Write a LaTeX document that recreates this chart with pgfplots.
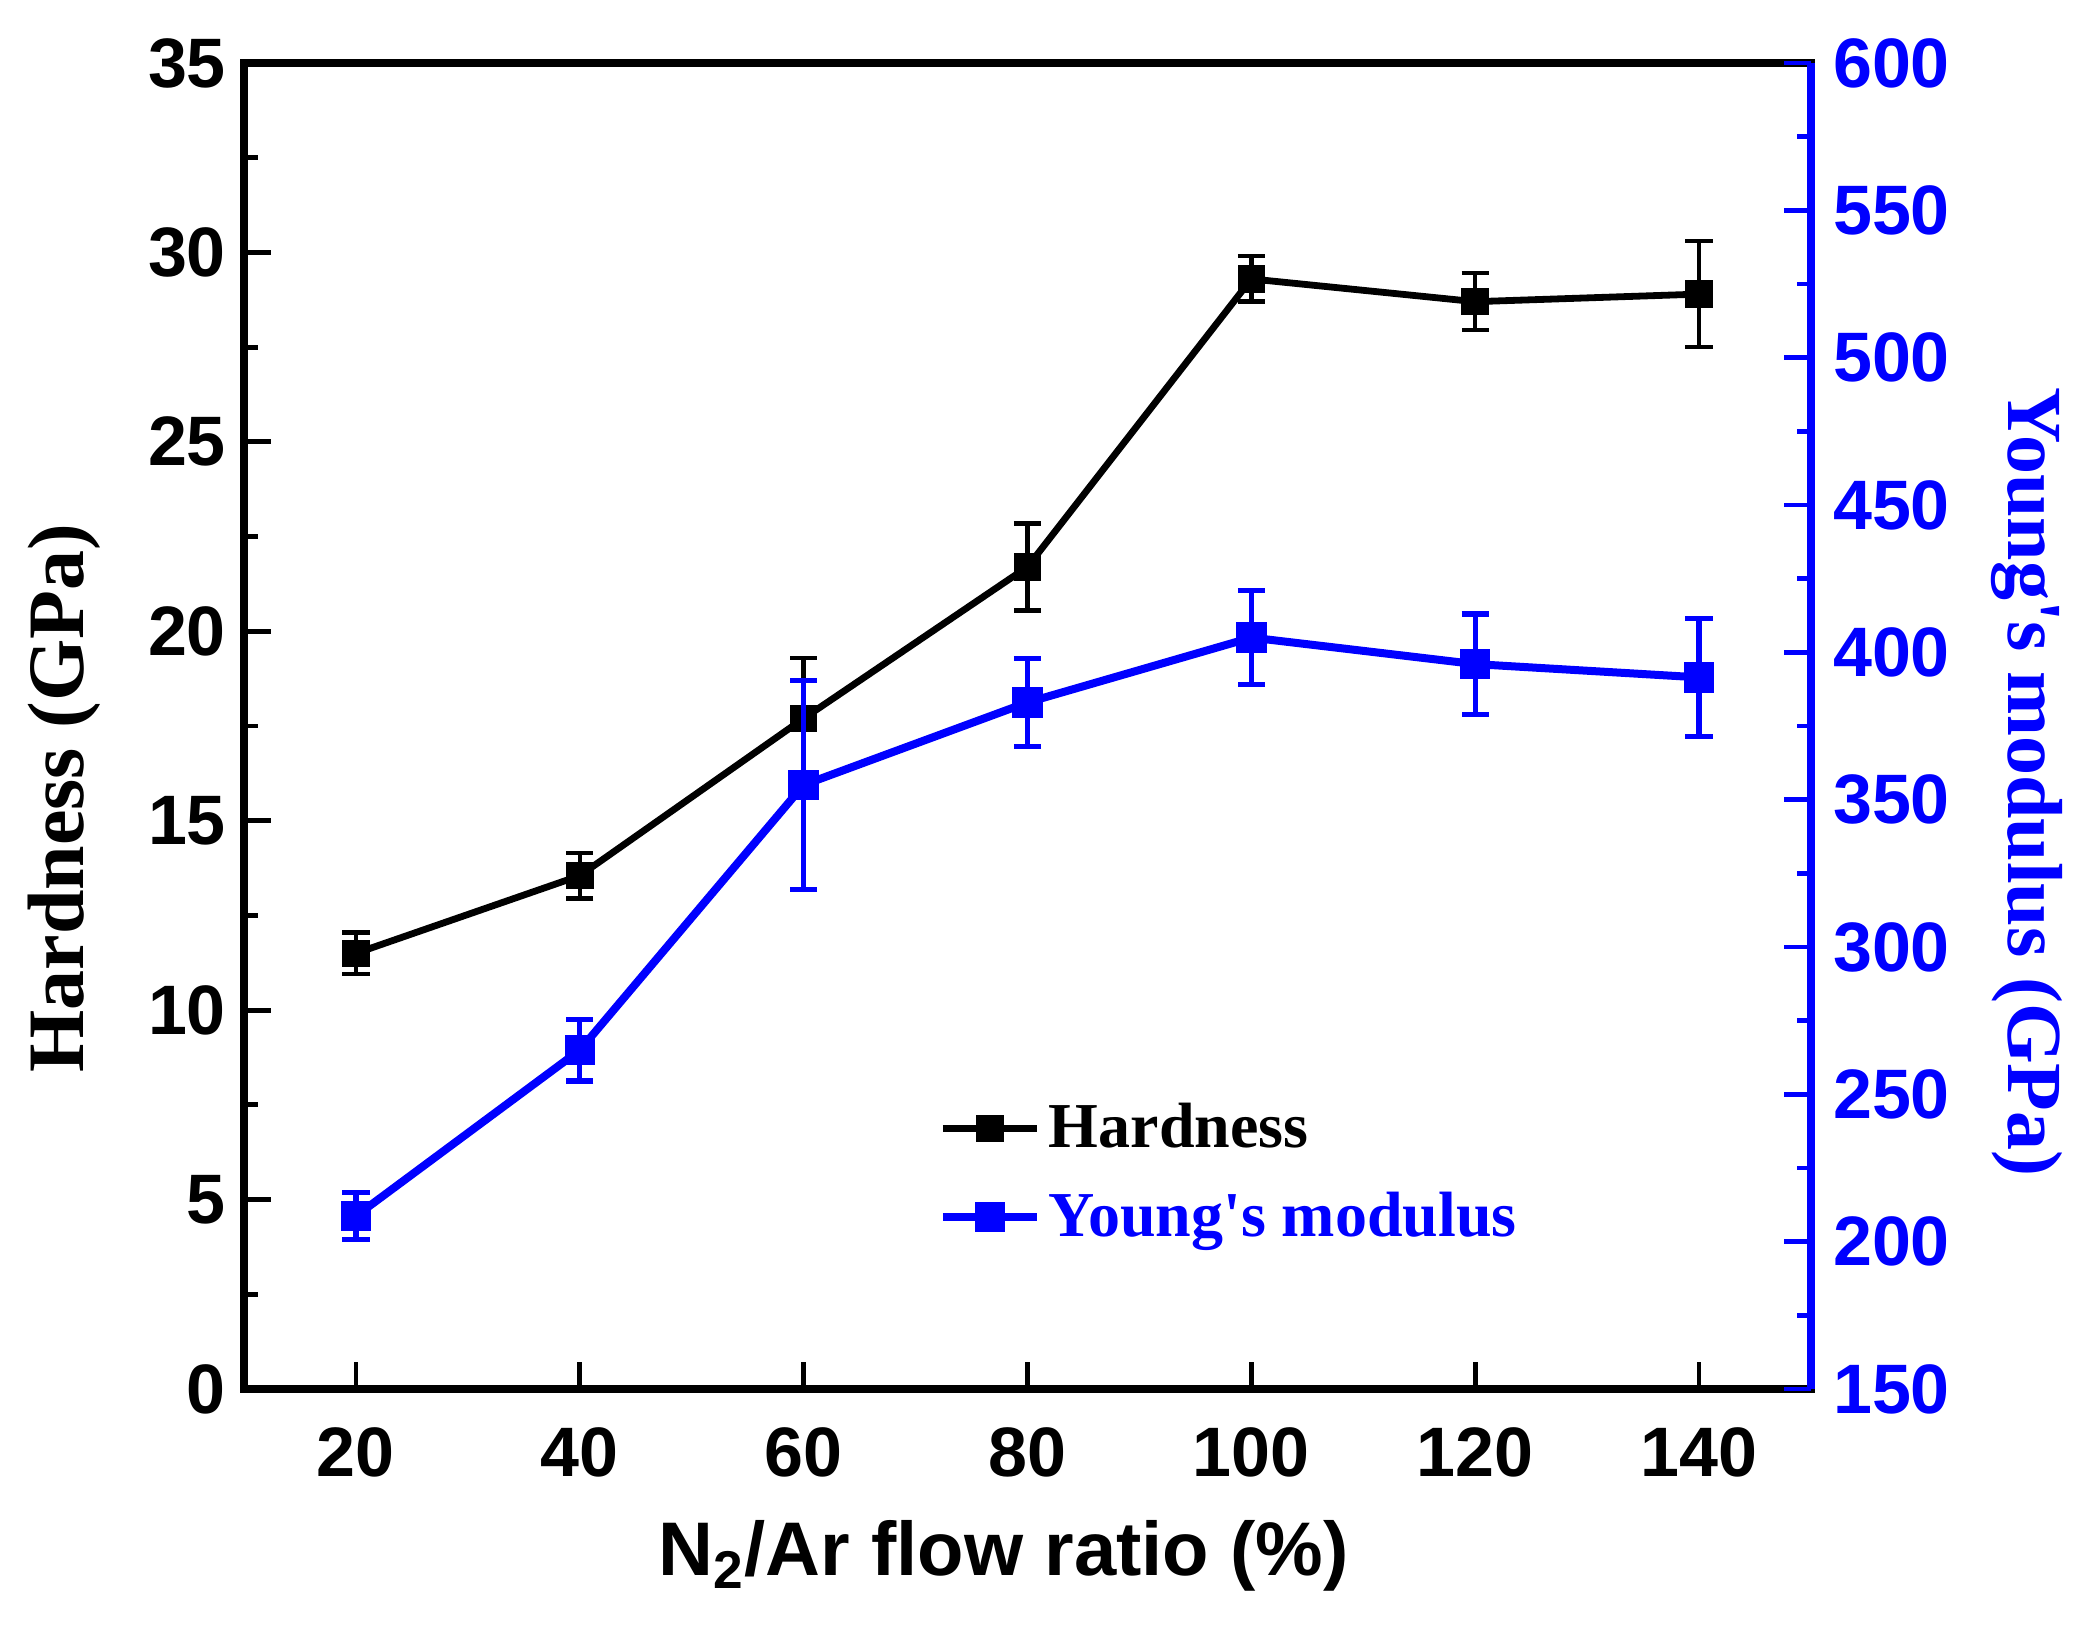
\documentclass[border=0pt]{standalone}
\usepackage{pgfplots}
\pgfplotsset{compat=1.18}
\usepackage{fontspec}
\setmainfont{Liberation Serif}
\newfontfamily\arialb{Liberation Sans}
\definecolor{yblue}{RGB}{0,0,255}

\begin{document}
\begin{tikzpicture}
% hardness, left axis
\begin{axis}[
	scale only axis,
	width=391.75pt, height=331.5pt,
	xmin=10, xmax=150,
	ymin=0, ymax=35,
	xtick={20,40,...,140},
	ytick={0,5,...,35},
	minor y tick num=1,
	xtick pos=bottom, ytick pos=left,
	tick align=inside,
	major tick length=6.7pt, minor tick length=3.6pt,
	every tick/.style={line width=1.2pt, black},
	axis line style={line width=1.8pt},
	/pgf/number format/assume math mode=true,
	ticklabel style={font=\arialb\bfseries\fontsize{17.5}{20}\selectfont},
	xticklabel style={yshift=-6pt},
	yticklabel style={xshift=-1pt},
	xlabel={\arialb\bfseries\fontsize{19}{22}\selectfont N\textsubscript{2}/Ar flow ratio (\%)},
	ylabel={\bfseries\fontsize{20}{22}\selectfont Hardness (GPa)},
	xlabel style={yshift=-4pt, xshift=-6pt},
	ylabel style={yshift=5pt, xshift=-18pt},
	clip=false,
]
\addplot[black, line width=1.7pt, mark=square*, mark size=2.6pt,
	error bars/.cd, y dir=both, y explicit,
	error bar style={line width=1.1pt},
	error mark options={rotate=90, mark size=3.4pt, line width=1.1pt}]
	coordinates {
	(20,  11.5)  +- (0, 0.55)
	(40,  13.55) +- (0, 0.6)
	(60,  17.7)  +- (0, 1.6)
	(80,  21.7)  +- (0, 1.15)
	(100, 29.3)  +- (0, 0.6)
	(120, 28.7)  +- (0, 0.75)
	(140, 28.9)  +- (0, 1.4)
};
\coordinate (bbsw) at (rel axis cs:0,0);
\coordinate (bbne) at (rel axis cs:1,1);
\end{axis}
% young's modulus, right axis
\begin{axis}[
	scale only axis,
	width=391.75pt, height=331.5pt,
	xmin=10, xmax=150,
	ymin=150, ymax=600,
	axis x line=none,
	axis y line*=right,
	ytick={150,200,...,600},
	minor y tick num=1,
	tick align=inside,
	major tick length=6.7pt, minor tick length=3.6pt,
	every tick/.style={line width=1.2pt, yblue},
	axis line style={line width=1.8pt, yblue},
	/pgf/number format/assume math mode=true,
	yticklabel style={font=\arialb\bfseries\fontsize{17.5}{20}\selectfont, text=yblue, xshift=2pt},
	ylabel={\bfseries\fontsize{19.5}{22}\selectfont Young\textquotesingle s modulus (GPa)},
	ylabel style={text=yblue, rotate=180, yshift=3.5pt, xshift=14pt},
	legend style={draw=none, fill=none, at={(rel axis cs:0.443,0.222)}, anchor=north west,
		font=\bfseries\fontsize{16}{18}\selectfont, row sep=5.5pt,
		inner xsep=0pt, inner ysep=0pt},
	legend cell align=left,
	legend image code/.code={\draw[mark repeat=2,mark phase=2] plot coordinates {(0pt,0pt) (11.75pt,0pt) (23.5pt,0pt)};},
]
\addlegendimage{black, line width=1.7pt, mark=square*, mark size=2.6pt}
\addlegendentry{Hardness}
\addplot[yblue, line width=2pt, mark=square*, mark size=2.8pt,
	error bars/.cd, y dir=both, y explicit,
	error bar style={line width=1.3pt},
	error mark options={rotate=90, mark size=3.4pt, line width=1.3pt}]
	coordinates {
	(20,  208.7) +- (0, 8)
	(40,  265)   +- (0, 10.5)
	(60,  355)   +- (0, 35.5)
	(80,  383)   +- (0, 15)
	(100, 405)   +- (0, 16)
	(120, 396)   +- (0, 17)
	(140, 391.5) +- (0, 20)
};
\addlegendentry{\textcolor{yblue}{Young\textquotesingle s modulus}}
\end{axis}
\pgfresetboundingbox
\useasboundingbox ([shift={(-61pt,-59.5pt)}]bbsw) rectangle ([shift={(69.5pt,15.75pt)}]bbne);
\end{tikzpicture}
\end{document}
